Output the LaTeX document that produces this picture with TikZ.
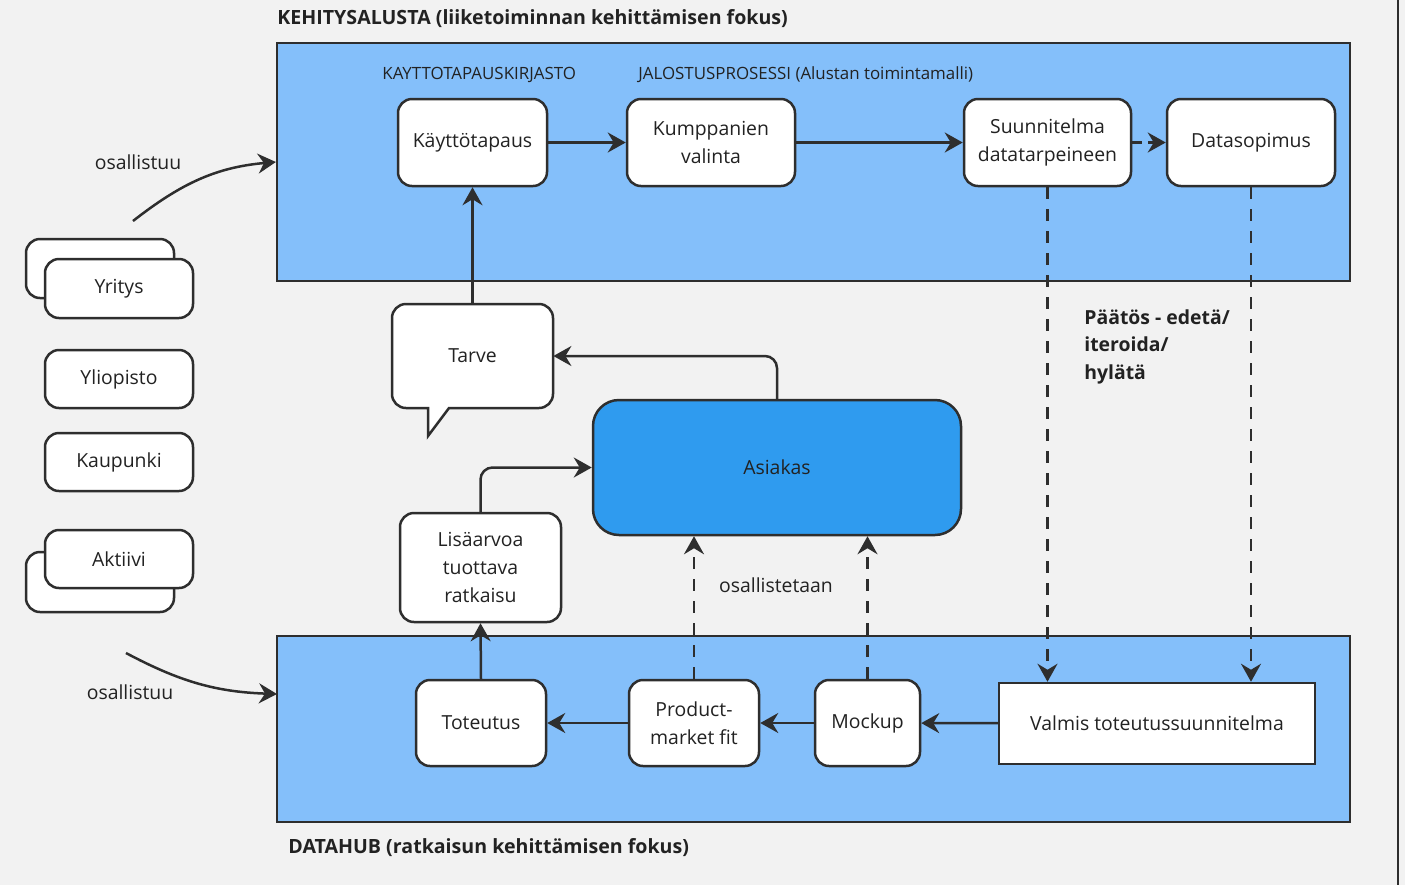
\documentclass[tikz,border=0pt]{standalone}
\usepackage{fontspec}
\setmainfont{Open Sans}
\usetikzlibrary{arrows.meta}
\definecolor{bgc}{HTML}{F2F2F2}
\definecolor{panelc}{HTML}{84BFFA}
\definecolor{asc}{HTML}{2F9BEF}
\definecolor{linec}{HTML}{2E2E2E}
\definecolor{textc}{HTML}{222222}
\tikzset{
  every node/.style={font=\fontsize{9.7}{14}\selectfont, inner sep=0pt, text=textc},
  box/.style={draw=linec, fill=white, line width=1.25pt, rounded corners=7pt, align=center},
  sqbox/.style={draw=linec, fill=white, line width=1.25pt, align=center},
  panel/.style={draw=linec, fill=panelc, line width=1.1pt},
  conn/.style={draw=linec, line width=1.25pt, -{Stealth[length=9pt,width=10pt,inset=3pt]}},
  dconn/.style={conn, dash pattern=on 6pt off 5pt},
  title/.style={font=\fontsize{9.8}{12}\selectfont\bfseries, anchor=west},
  small/.style={font=\fontsize{8.45}{10}\selectfont, anchor=west},
  lbl/.style={}
}
\begin{document}
\begin{tikzpicture}[x=0.5pt,y=-0.5pt]
\useasboundingbox (0,0) rectangle (1405,885);
\fill[bgc] (0,0) rectangle (1405,885);
\draw[linec, line width=1pt] (1398,0) -- (1398,885);

% panels
\node[panel, minimum width=536.5pt, minimum height=119pt] (top) at (813.5,162) {};
\node[panel, minimum width=536.5pt, minimum height=93pt] (bot) at (813.5,729) {};
\node[title] (ttop) at (277,18.5) {KEHITYSALUSTA (liiketoiminnan kehittämisen fokus)};
\node[title] (tbot) at (288,847.5) {DATAHUB (ratkaisun kehittämisen fokus)};
\node[small] (lib) at (382,74.5) {KAYTTOTAPAUSKIRJASTO};
\node[small] (jal) at (638,74.5) {JALOSTUSPROSESSI (Alustan toimintamalli)};

% top row
\node[box, minimum width=74.5pt, minimum height=43.5pt] (kt) at (472.5,142.5) {Käyttötapaus};
\node[box, minimum width=84pt, minimum height=43.5pt] (kv) at (711,142.5) {Kumppanien\\valinta};
\node[box, minimum width=83.5pt, minimum height=43.5pt] (su) at (1047.5,142.5) {Suunnitelma\\datatarpeineen};
\node[box, minimum width=84pt, minimum height=43.5pt] (ds) at (1251,142.5) {Datasopimus};

% Tarve speech bubble
\draw[draw=linec, fill=white, line width=1.25pt]
  (449,408) -- (428,436) -- (428,408) [rounded corners=7pt] -- (392,408) -- (392,304) -- (553,304) -- (553,408) [sharp corners] -- cycle;
\node[minimum width=80.5pt, minimum height=52pt] (tarve) at (472.5,356) {Tarve};

% Asiakas
\node[draw=linec, fill=asc, line width=1.25pt, rounded corners=13pt, minimum width=184pt, minimum height=67.5pt] (as) at (777,467.5) {Asiakas};

% Lisäarvoa
\node[box, minimum width=80.5pt, minimum height=54.5pt] (lis) at (480.5,567.5) {Lisäarvoa\\tuottava\\ratkaisu};

% left boxes
\node[box, minimum width=74pt, minimum height=29.5pt] (yrb) at (100,268.5) {};
\node[box, minimum width=74pt, minimum height=29.5pt] (yr) at (119,288.5) {Yritys};
\node[box, minimum width=74pt, minimum height=29pt] (yl) at (119,379) {Yliopisto};
\node[box, minimum width=74pt, minimum height=29pt] (ka) at (119,462) {Kaupunki};
\node[box, minimum width=74pt, minimum height=30pt] (akb) at (100,582) {};
\node[box, minimum width=74pt, minimum height=29pt] (ak) at (119,559) {Aktiivi};

% bottom row
\node[box, minimum width=65pt, minimum height=43pt] (tot) at (481,723) {Toteutus};
\node[box, minimum width=65pt, minimum height=43pt] (pmf) at (694,723) {Product-\\market fit};
\node[box, minimum width=52.5pt, minimum height=43pt] (mo) at (867.5,723) {Mockup};
\node[sqbox, minimum width=158pt, minimum height=40.5pt] (va) at (1157,723.5) {Valmis toteutussuunnitelma};

% labels
\node[lbl] (os1) at (138,162) {osallistuu};
\node[lbl] (os2) at (130,692) {osallistuu};
\node[lbl] (ost) at (776,585) {osallistetaan};
\node[font=\fontsize{9.7}{13.8}\selectfont\bfseries, align=left, anchor=north west] (pa) at (1084,309) {Päätös - edetä/\\iteroida/\\hylätä};

% connectors
\draw[conn] (kt) -- (kv);
\draw[conn] (kv) -- (su);
\draw[dconn, dash pattern=on 5pt off 3pt] (su) -- (ds);
\draw[conn] (tarve.north) -- (kt.south);
\draw[conn, rounded corners=6pt] (as.north) |- (tarve.east);
\draw[conn, rounded corners=6pt] (lis.north) |- (as.west);
\draw[conn] (tot.north) -- (lis.south);
\draw[conn] (va) -- (mo);
\draw[conn] (mo) -- (pmf);
\draw[conn] (pmf) -- (tot);
\draw[dconn] (pmf.north) -- (pmf.north |- as.south);
\draw[dconn] (mo.north) -- (mo.north |- as.south);
\draw[dconn] (su.south) -- (su.south |- va.north);
\draw[dconn] (ds.south) -- (ds.south |- va.north);

\coordinate (s1) at (133,221);
\coordinate (s2) at (126,653);
\coordinate (e2) at (277,694);
\draw[conn] (s1) to[out=38,in=185] (top.west);
\draw[conn] (s2) to[out=-28,in=178] (e2);
\end{tikzpicture}
\end{document}
